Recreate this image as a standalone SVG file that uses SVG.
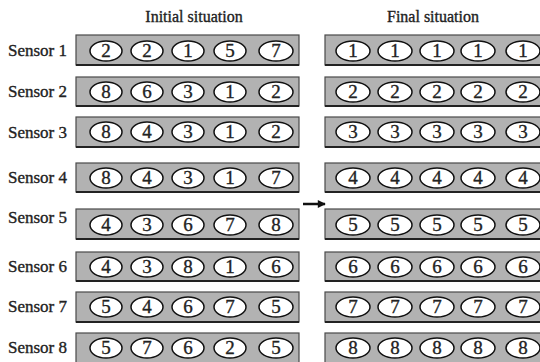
<svg xmlns="http://www.w3.org/2000/svg" width="540" height="362" viewBox="0 0 540 362">
<defs>
<style>
.bar{fill:#b2b2b2;stroke:#4a4a4a;stroke-width:1.2}
.sh{stroke:#222;stroke-width:2}
.el{fill:#fff;stroke:#111;stroke-width:1.5}
text{font-family:"Liberation Serif","Times New Roman",serif;fill:#222;stroke:#222;stroke-width:0.35}
.num{font-size:19px;text-anchor:middle}
.lab{font-size:17px}
.hd{font-size:16px;text-anchor:middle}
</style>
<marker id="ah" viewBox="0 0 10 10" refX="9" refY="5" markerWidth="9" markerHeight="8" orient="auto" markerUnits="userSpaceOnUse"><path d="M0,0 L10,5 L0,10 z" fill="#111"/></marker>
</defs>
<rect width="540" height="362" fill="#fff"/>
<text class="hd" x="194" y="22">Initial situation</text>
<text class="hd" x="433" y="22">Final situation</text>
<g id="connectors"><line x1="303" y1="204" x2="325" y2="204" stroke="#111" stroke-width="2.5" marker-end="url(#ah)"/></g>

<g id="sensor1"><text class="lab" x="8" y="56">Sensor 1</text>
<rect class="bar" x="76" y="35" width="223" height="30"/><line class="sh" x1="76" y1="65" x2="299" y2="65"/>
<ellipse class="el" cx="106" cy="51" rx="16" ry="10"/><text class="num" x="106" y="57">2</text>
<ellipse class="el" cx="147" cy="51" rx="16" ry="10"/><text class="num" x="147" y="57">2</text>
<ellipse class="el" cx="188" cy="51" rx="16" ry="10"/><text class="num" x="188" y="57">1</text>
<ellipse class="el" cx="230" cy="51" rx="16" ry="10"/><text class="num" x="230" y="57">5</text>
<ellipse class="el" cx="276" cy="51" rx="17" ry="10"/><text class="num" x="276" y="57">7</text></g>
<g id="final1"><rect class="bar" x="325" y="35" width="220" height="30"/><line class="sh" x1="325" y1="65" x2="540" y2="65"/>
<ellipse class="el" cx="353" cy="51" rx="17" ry="10"/><text class="num" x="353" y="57">1</text>
<ellipse class="el" cx="395" cy="51" rx="17" ry="10"/><text class="num" x="395" y="57">1</text>
<ellipse class="el" cx="437" cy="51" rx="17" ry="10"/><text class="num" x="437" y="57">1</text>
<ellipse class="el" cx="478" cy="51" rx="17" ry="10"/><text class="num" x="478" y="57">1</text>
<ellipse class="el" cx="523" cy="51" rx="17" ry="10"/><text class="num" x="523" y="57">1</text></g>

<g id="sensor2"><text class="lab" x="8" y="97">Sensor 2</text>
<rect class="bar" x="76" y="77" width="223" height="29"/><line class="sh" x1="76" y1="106" x2="299" y2="106"/>
<ellipse class="el" cx="106" cy="92" rx="16" ry="10"/><text class="num" x="106" y="98">8</text>
<ellipse class="el" cx="147" cy="92" rx="16" ry="10"/><text class="num" x="147" y="98">6</text>
<ellipse class="el" cx="188" cy="92" rx="16" ry="10"/><text class="num" x="188" y="98">3</text>
<ellipse class="el" cx="230" cy="92" rx="16" ry="10"/><text class="num" x="230" y="98">1</text>
<ellipse class="el" cx="276" cy="92" rx="17" ry="10"/><text class="num" x="276" y="98">2</text></g>
<g id="final2"><rect class="bar" x="325" y="77" width="220" height="29"/><line class="sh" x1="325" y1="106" x2="540" y2="106"/>
<ellipse class="el" cx="353" cy="92" rx="17" ry="10"/><text class="num" x="353" y="98">2</text>
<ellipse class="el" cx="395" cy="92" rx="17" ry="10"/><text class="num" x="395" y="98">2</text>
<ellipse class="el" cx="437" cy="92" rx="17" ry="10"/><text class="num" x="437" y="98">2</text>
<ellipse class="el" cx="478" cy="92" rx="17" ry="10"/><text class="num" x="478" y="98">2</text>
<ellipse class="el" cx="523" cy="92" rx="17" ry="10"/><text class="num" x="523" y="98">2</text></g>

<g id="sensor3"><text class="lab" x="8" y="138">Sensor 3</text>
<rect class="bar" x="76" y="117" width="223" height="30"/><line class="sh" x1="76" y1="147" x2="299" y2="147"/>
<ellipse class="el" cx="106" cy="132" rx="16" ry="10"/><text class="num" x="106" y="138">8</text>
<ellipse class="el" cx="147" cy="132" rx="16" ry="10"/><text class="num" x="147" y="138">4</text>
<ellipse class="el" cx="188" cy="132" rx="16" ry="10"/><text class="num" x="188" y="138">3</text>
<ellipse class="el" cx="230" cy="132" rx="16" ry="10"/><text class="num" x="230" y="138">1</text>
<ellipse class="el" cx="276" cy="132" rx="17" ry="10"/><text class="num" x="276" y="138">2</text></g>
<g id="final3"><rect class="bar" x="325" y="117" width="220" height="30"/><line class="sh" x1="325" y1="147" x2="540" y2="147"/>
<ellipse class="el" cx="353" cy="132" rx="17" ry="10"/><text class="num" x="353" y="138">3</text>
<ellipse class="el" cx="395" cy="132" rx="17" ry="10"/><text class="num" x="395" y="138">3</text>
<ellipse class="el" cx="437" cy="132" rx="17" ry="10"/><text class="num" x="437" y="138">3</text>
<ellipse class="el" cx="478" cy="132" rx="17" ry="10"/><text class="num" x="478" y="138">3</text>
<ellipse class="el" cx="523" cy="132" rx="17" ry="10"/><text class="num" x="523" y="138">3</text></g>

<g id="sensor4"><text class="lab" x="8" y="183">Sensor 4</text>
<rect class="bar" x="76" y="163" width="223" height="29"/><line class="sh" x1="76" y1="192" x2="299" y2="192"/>
<ellipse class="el" cx="106" cy="178" rx="16" ry="10"/><text class="num" x="106" y="184">8</text>
<ellipse class="el" cx="147" cy="178" rx="16" ry="10"/><text class="num" x="147" y="184">4</text>
<ellipse class="el" cx="188" cy="178" rx="16" ry="10"/><text class="num" x="188" y="184">3</text>
<ellipse class="el" cx="230" cy="178" rx="16" ry="10"/><text class="num" x="230" y="184">1</text>
<ellipse class="el" cx="276" cy="178" rx="17" ry="10"/><text class="num" x="276" y="184">7</text></g>
<g id="final4"><rect class="bar" x="325" y="163" width="220" height="29"/><line class="sh" x1="325" y1="192" x2="540" y2="192"/>
<ellipse class="el" cx="353" cy="178" rx="17" ry="10"/><text class="num" x="353" y="184">4</text>
<ellipse class="el" cx="395" cy="178" rx="17" ry="10"/><text class="num" x="395" y="184">4</text>
<ellipse class="el" cx="437" cy="178" rx="17" ry="10"/><text class="num" x="437" y="184">4</text>
<ellipse class="el" cx="478" cy="178" rx="17" ry="10"/><text class="num" x="478" y="184">4</text>
<ellipse class="el" cx="523" cy="178" rx="17" ry="10"/><text class="num" x="523" y="184">4</text></g>

<g id="sensor5"><text class="lab" x="8" y="223">Sensor 5</text>
<rect class="bar" x="76" y="209" width="223" height="30"/><line class="sh" x1="76" y1="239" x2="299" y2="239"/>
<ellipse class="el" cx="106" cy="225" rx="16" ry="10"/><text class="num" x="106" y="231">4</text>
<ellipse class="el" cx="147" cy="225" rx="16" ry="10"/><text class="num" x="147" y="231">3</text>
<ellipse class="el" cx="188" cy="225" rx="16" ry="10"/><text class="num" x="188" y="231">6</text>
<ellipse class="el" cx="230" cy="225" rx="16" ry="10"/><text class="num" x="230" y="231">7</text>
<ellipse class="el" cx="276" cy="225" rx="17" ry="10"/><text class="num" x="276" y="231">8</text></g>
<g id="final5"><rect class="bar" x="325" y="209" width="220" height="30"/><line class="sh" x1="325" y1="239" x2="540" y2="239"/>
<ellipse class="el" cx="353" cy="225" rx="17" ry="10"/><text class="num" x="353" y="231">5</text>
<ellipse class="el" cx="395" cy="225" rx="17" ry="10"/><text class="num" x="395" y="231">5</text>
<ellipse class="el" cx="437" cy="225" rx="17" ry="10"/><text class="num" x="437" y="231">5</text>
<ellipse class="el" cx="478" cy="225" rx="17" ry="10"/><text class="num" x="478" y="231">5</text>
<ellipse class="el" cx="523" cy="225" rx="17" ry="10"/><text class="num" x="523" y="231">5</text></g>

<g id="sensor6"><text class="lab" x="8" y="272">Sensor 6</text>
<rect class="bar" x="76" y="252" width="223" height="29"/><line class="sh" x1="76" y1="281" x2="299" y2="281"/>
<ellipse class="el" cx="106" cy="267" rx="16" ry="10"/><text class="num" x="106" y="273">4</text>
<ellipse class="el" cx="147" cy="267" rx="16" ry="10"/><text class="num" x="147" y="273">3</text>
<ellipse class="el" cx="188" cy="267" rx="16" ry="10"/><text class="num" x="188" y="273">8</text>
<ellipse class="el" cx="230" cy="267" rx="16" ry="10"/><text class="num" x="230" y="273">1</text>
<ellipse class="el" cx="276" cy="267" rx="17" ry="10"/><text class="num" x="276" y="273">6</text></g>
<g id="final6"><rect class="bar" x="325" y="252" width="220" height="29"/><line class="sh" x1="325" y1="281" x2="540" y2="281"/>
<ellipse class="el" cx="353" cy="267" rx="17" ry="10"/><text class="num" x="353" y="273">6</text>
<ellipse class="el" cx="395" cy="267" rx="17" ry="10"/><text class="num" x="395" y="273">6</text>
<ellipse class="el" cx="437" cy="267" rx="17" ry="10"/><text class="num" x="437" y="273">6</text>
<ellipse class="el" cx="478" cy="267" rx="17" ry="10"/><text class="num" x="478" y="273">6</text>
<ellipse class="el" cx="523" cy="267" rx="17" ry="10"/><text class="num" x="523" y="273">6</text></g>

<g id="sensor7"><text class="lab" x="8" y="312">Sensor 7</text>
<rect class="bar" x="76" y="292" width="223" height="30"/><line class="sh" x1="76" y1="322" x2="299" y2="322"/>
<ellipse class="el" cx="106" cy="307" rx="16" ry="10"/><text class="num" x="106" y="313">5</text>
<ellipse class="el" cx="147" cy="307" rx="16" ry="10"/><text class="num" x="147" y="313">4</text>
<ellipse class="el" cx="188" cy="307" rx="16" ry="10"/><text class="num" x="188" y="313">6</text>
<ellipse class="el" cx="230" cy="307" rx="16" ry="10"/><text class="num" x="230" y="313">7</text>
<ellipse class="el" cx="276" cy="307" rx="17" ry="10"/><text class="num" x="276" y="313">5</text></g>
<g id="final7"><rect class="bar" x="325" y="292" width="220" height="30"/><line class="sh" x1="325" y1="322" x2="540" y2="322"/>
<ellipse class="el" cx="353" cy="307" rx="17" ry="10"/><text class="num" x="353" y="313">7</text>
<ellipse class="el" cx="395" cy="307" rx="17" ry="10"/><text class="num" x="395" y="313">7</text>
<ellipse class="el" cx="437" cy="307" rx="17" ry="10"/><text class="num" x="437" y="313">7</text>
<ellipse class="el" cx="478" cy="307" rx="17" ry="10"/><text class="num" x="478" y="313">7</text>
<ellipse class="el" cx="523" cy="307" rx="17" ry="10"/><text class="num" x="523" y="313">7</text></g>

<g id="sensor8"><text class="lab" x="8" y="353">Sensor 8</text>
<rect class="bar" x="76" y="333" width="223" height="32"/>
<ellipse class="el" cx="106" cy="348" rx="16" ry="10"/><text class="num" x="106" y="354">5</text>
<ellipse class="el" cx="147" cy="348" rx="16" ry="10"/><text class="num" x="147" y="354">7</text>
<ellipse class="el" cx="188" cy="348" rx="16" ry="10"/><text class="num" x="188" y="354">6</text>
<ellipse class="el" cx="230" cy="348" rx="16" ry="10"/><text class="num" x="230" y="354">2</text>
<ellipse class="el" cx="276" cy="348" rx="17" ry="10"/><text class="num" x="276" y="354">5</text></g>
<g id="final8"><rect class="bar" x="325" y="333" width="220" height="32"/>
<ellipse class="el" cx="353" cy="348" rx="17" ry="10"/><text class="num" x="353" y="354">8</text>
<ellipse class="el" cx="395" cy="348" rx="17" ry="10"/><text class="num" x="395" y="354">8</text>
<ellipse class="el" cx="437" cy="348" rx="17" ry="10"/><text class="num" x="437" y="354">8</text>
<ellipse class="el" cx="478" cy="348" rx="17" ry="10"/><text class="num" x="478" y="354">8</text>
<ellipse class="el" cx="523" cy="348" rx="17" ry="10"/><text class="num" x="523" y="354">8</text></g>
</svg>
